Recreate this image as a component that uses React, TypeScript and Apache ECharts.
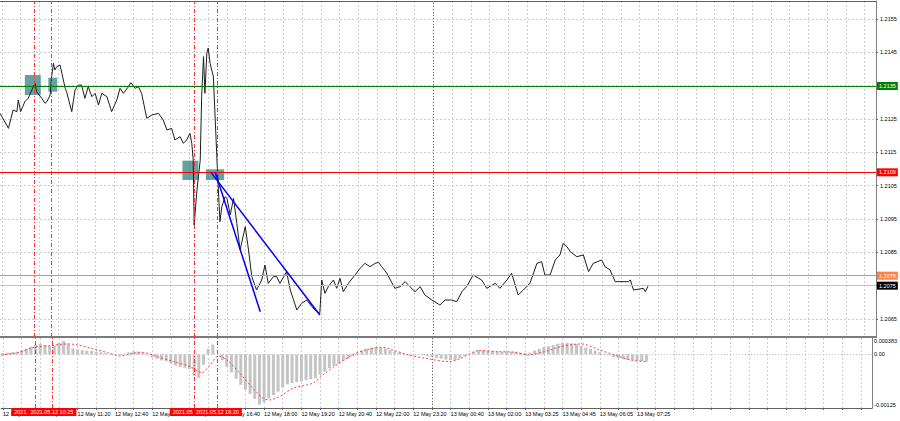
import React, { useEffect, useRef } from "react";
import * as echarts from "echarts";

const FONT = "'Liberation Sans', Arial, sans-serif";

// time = minutes since 12 May 2021 00:00
const priceTimes = [516,534,544,552,555,560,569,576,587,591,594,605,612,616,623,626,630,633,637,644,648,655,658,669,676,683,690,697,704,712,719,726,733,744,754,765,772,779,790,795,804,811,818,829,840,854,864,872,882,889,900,907,914,921,925,928,930,936,943,946,950,953,957,960,964,971,975,979,985,989,996,1000,1007,1014,1021,1028,1039,1046,1053,1063,1074,1081,1088,1099,1106,1113,1127,1135,1149,1159,1170,1181,1191,1198,1202,1209,1216,1227,1234,1241,1248,1259,1273,1284,1294,1305,1316,1323,1330,1341,1358,1369,1380,1390,1401,1412,1422,1437,1454,1465,1479,1490,1501,1511,1525,1543,1554,1572,1582,1597,1607,1621,1632,1646,1661,1671,1678,1689,1700,1710,1717,1725,1732,1746,1760,1771,1781,1799,1806,1817,1828,1856,1860,1867,1888,1892,1899];
const prices = [1.21267,1.21222,1.21277,1.21272,1.21307,1.21272,1.21302,1.21312,1.21347,1.21357,1.21332,1.21312,1.21297,1.21302,1.21322,1.21377,1.21417,1.21397,1.21407,1.21412,1.21387,1.21342,1.21332,1.21272,1.21337,1.21352,1.21352,1.21312,1.21347,1.21317,1.21327,1.21292,1.21327,1.21317,1.21272,1.21307,1.21342,1.21327,1.21347,1.21359,1.21342,1.21347,1.21327,1.21252,1.21262,1.21267,1.21247,1.21217,1.21222,1.21187,1.21197,1.21177,1.21187,1.21207,1.21177,1.21127,1.20932,1.21037,1.21127,1.21317,1.21437,1.21327,1.21447,1.21463,1.21417,1.21377,1.21247,1.21117,1.20942,1.20987,1.21017,1.21012,1.20962,1.21012,1.20937,1.20857,1.20927,1.20857,1.20777,1.20737,1.20767,1.20812,1.20757,1.20777,1.20777,1.20757,1.20792,1.20737,1.20677,1.20697,1.20707,1.20687,1.20672,1.20667,1.20767,1.20727,1.20747,1.20767,1.20742,1.20772,1.20732,1.20757,1.20782,1.20802,1.20817,1.20807,1.20817,1.2082,1.20807,1.20787,1.20742,1.20747,1.20762,1.20747,1.20732,1.20747,1.20722,1.20707,1.20692,1.20707,1.20707,1.20702,1.20732,1.20747,1.20782,1.20767,1.20742,1.20757,1.20742,1.20767,1.20787,1.20722,1.20737,1.20757,1.20817,1.20822,1.20782,1.20782,1.20827,1.20842,1.20877,1.20867,1.20852,1.20837,1.20842,1.20792,1.20817,1.20827,1.20807,1.20797,1.20762,1.20762,1.20767,1.20737,1.20742,1.20732,1.20752];

// MACD histogram, one value every 10 minutes from 08:40
const histStart = 520;
const histStep = 10;
const histValues = [0.00003,0.00004,0.00005,0.000065,0.0001,0.00013,0.00018,0.00023,0.00024,0.00022,0.00019,0.00021,0.00027,0.00031,0.00025,0.00014,0.00012,0.0001,0.00009,0.00008,0.00006,0.00005,0.00003,0.00001,0,-0.00001,0.00002,0.00005,0.00007,0.00007,0.00004,-0.00002,-0.00007,-0.0001,-0.00014,-0.00016,-0.00021,-0.00026,-0.00029,-0.00031,-0.00034,-0.0005,-0.00055,-0.00024,0.00013,0.00023,0,-0.000135,-0.00029,-0.00042,-0.00057,-0.00071,-0.00082,-0.00092,-0.00104,-0.00117,-0.00112,-0.00103,-0.00095,-0.00087,-0.00077,-0.0007,-0.00067,-0.00065,-0.00063,-0.0006,-0.00058,-0.00056,-0.00047,-0.0004,-0.00032,-0.00027,-0.00021,-0.00015,-0.0001,-0.00004,0.00003,0.00009,0.00013,0.00016,0.00017,0.00016,0.00014,0.0001,0.000065,0.00004,0.000015,0.000005,-0.000005,-0.00001,-0.00002,-0.00004,-0.00006,-0.00008,-0.0001,-0.00012,-0.00013,-0.00013,-0.00009,-0.00004,0.00001,0.00006,0.0001,0.0001,0.00009,0.00008,0.000065,0.000065,0.000065,0.000065,0.00006,0.00004,0.00003,0.00004,0.00009,0.00013,0.00017,0.00019,0.00022,0.00025,0.00027,0.00027,0.00026,0.00024,0.0002,0.00016,0.00013,0.00009,0.00005,0.00002,-0.00002,-0.00006,-0.00008,-0.00011,-0.00013,-0.00014,-0.00015,-0.00016,-0.00017];

const signalTimes = [516,552,587,623,658,680,708,744,772,800,822,850,886,921,946,964,982,1000,1028,1056,1078,1092,1113,1142,1184,1206,1241,1277,1305,1333,1355,1390,1433,1476,1503,1540,1582,1618,1646,1682,1717,1760,1796,1831,1866,1900];
const signalValues = [-0.000012,0.000042,0.000168,0.000205,0.000245,0.000222,0.000145,0.000042,-0.000035,0.000028,0.000042,-0.000051,-0.000168,-0.000285,-0.000425,-0.000245,-0.000035,-0.000128,-0.000439,-0.000789,-0.001022,-0.001062,-0.000985,-0.000789,-0.000672,-0.000478,-0.000205,0.000028,0.000121,0.000168,0.000105,-0.000012,-0.000105,-0.000168,-0.000089,0.000089,0.000065,0.000051,-0.000012,0.000065,0.000182,0.000245,0.000121,-0.000012,-0.000128,-0.000168];

const mainYTicks = [1.2065,1.2075,1.2085,1.2095,1.2105,1.2115,1.2125,1.2135,1.2145,1.2155];
const indYLabels = [0.000383, 0, -0.00125];
const xTickLabels = ["12 May 08:40","12 May 10:00","12 May 11:20","12 May 12:40","12 May 14:00","12 May 15:20","12 May 16:40","12 May 18:00","12 May 19:20","12 May 20:40","12 May 22:00","12 May 23:20","13 May 00:40","13 May 02:00","13 May 03:25","13 May 04:45","13 May 06:05","13 May 07:25"];
const xLabelStart = 520;
const xLabelStep = 80;

const levelValues = [1.2075, 1.2078, 1.2109, 1.21349];
const levelLabels = ["1.2075", "1.2078", "1.2109", "1.2135"];

const vLineTimes = [590, 625, 930, 980];
const vLineLabels = ["2021.05.12 09:50", "2021.05.12 10:25", "2021.05.12 15:30", "2021.05.12 16:20"];
const daySeparator = 1440;

const trendStarts = [[975, 1.2109], [966, 1.2109]];
const trendEnds = [[1071, 1.20672], [1198, 1.20662]];

const zoneTimes = [[569, 603], [619, 638], [905, 939], [955, 994]];
const zonePrices = [[1.21382, 1.21322], [1.21374, 1.21332], [1.21125, 1.21067], [1.21099, 1.21067]];

const X_MIN = 516;
const X_MAX = 2384;

export default function App() {
  const ref = useRef<HTMLDivElement>(null);
  useEffect(() => {
    const chart = echarts.init(ref.current!, undefined, { renderer: "svg" });
    const gridTimes: number[] = [];
    for (let t = 520; t <= X_MAX; t += 40) gridTimes.push(t);
    const labelTimes = xTickLabels.map((_, i) => xLabelStart + xLabelStep * i);
    const levelColors = ["#c0c0c0", "#ff7f50", "#ff0000", "#008000"];
    const levelBg = ["#000000", "#ff7f3f", "#ff0000", "#008000"];
    const redDash = { color: "#ff3030", width: 1, type: [4, 2, 1, 2] as any };
    const sepStyle = { color: "#6a6a6a", width: 1, type: [1, 2] as any };
    const small = { fontSize: 5.5, fontFamily: FONT };
    const blue = { color: "#0000ff", width: 1.5, type: "solid" as any };

    const option: any = {
      animation: false,
      backgroundColor: "#ffffff",
      grid: [
        { left: 0, right: 24, top: 1, height: 336 },
        { left: 0, right: 24, top: 338, height: 70 },
      ],
      xAxis: [
        {
          gridIndex: 0, type: "value", min: X_MIN, max: X_MAX, position: "bottom",
          axisLine: { show: true, onZero: false, lineStyle: { color: "#7a7a7a", width: 2 } },
          axisTick: { show: false, customValues: gridTimes },
          axisLabel: { show: false },
          splitLine: { show: true, lineStyle: { color: "#cfcfcf", type: [2, 2], width: 1 } },
        },
        {
          gridIndex: 0, type: "value", min: X_MIN, max: X_MAX, position: "top",
          axisLine: { show: true, onZero: false, lineStyle: { color: "#606060", width: 1 } },
          axisTick: { show: false }, axisLabel: { show: false }, splitLine: { show: false },
        },
        {
          gridIndex: 1, type: "value", min: X_MIN, max: X_MAX, position: "bottom",
          axisLine: { show: true, onZero: false, lineStyle: { color: "#606060", width: 1 } },
          axisTick: { show: true, customValues: gridTimes, length: 2, lineStyle: { color: "#606060" } },
          axisLabel: {
            customValues: labelTimes, align: "left", margin: 3, color: "#000", ...small,
            formatter: (v: number) => xTickLabels[Math.round((v - xLabelStart) / xLabelStep)] ?? "",
          },
          splitLine: { show: true, lineStyle: { color: "#cfcfcf", type: [2, 2], width: 1 } },
        },
      ],
      yAxis: [
        {
          gridIndex: 0, type: "value", position: "right", min: 1.20596, max: 1.21604,
          axisLine: { show: true, onZero: false, lineStyle: { color: "#808080" } },
          axisTick: { show: true, length: 2, customValues: mainYTicks, lineStyle: { color: "#606060" } },
          axisLabel: { customValues: mainYTicks, margin: 4, color: "#000", ...small, formatter: (v: number) => v.toFixed(4) },
          splitLine: { show: true, lineStyle: { color: "#cfcfcf", type: [2, 2], width: 1 } },
        },
        {
          gridIndex: 1, type: "value", position: "right", min: -0.00125, max: 0.000383,
          axisLine: { show: true, onZero: false, lineStyle: { color: "#808080" } },
          axisTick: { show: false, customValues: [0] },
          axisLabel: {
            customValues: indYLabels, margin: 2, color: "#000", ...small,
            formatter: (v: number) => (v > 0 ? "{t|0.000383}" : v < 0 ? "{b|-0.00125}" : "0.00"),
            rich: {
              t: { ...small, color: "#000", padding: [6, 0, 0, 0] },
              b: { ...small, color: "#000", padding: [0, 0, 6, 0] },
            },
          },
          splitLine: { show: true, lineStyle: { color: "#b8b8b8", type: [1, 2], width: 1 } },
        },
      ],
      series: [
        {
          type: "line", xAxisIndex: 0, yAxisIndex: 0, showSymbol: false, symbol: "none",
          data: priceTimes.map((t, i) => [t, prices[i]]),
          lineStyle: { color: "#1e1e1e", width: 1 },
          z: 3,
          markArea: {
            silent: true,
            itemStyle: { color: "rgba(40,125,125,0.72)" },
            data: zoneTimes.map((zt, i) => [
              { coord: [zt[0], zonePrices[i][0]] },
              { coord: [zt[1], zonePrices[i][1]] },
            ]),
          },
          markLine: {
            silent: true, symbol: ["none", "none"], animation: false, precision: 6,
            label: { show: false },
            data: [
              ...levelValues.map((v, i) => ({
                yAxis: v,
                lineStyle: { color: levelColors[i], width: 1, type: "solid" },
                label: {
                  show: true, position: "end", distance: 1, formatter: levelLabels[i],
                  backgroundColor: levelBg[i], color: "#fff", padding: [1, 2, 1, 2], ...small,
                },
              })),
              ...vLineTimes.map((t) => ({ xAxis: t, lineStyle: redDash })),
              { xAxis: daySeparator, lineStyle: sepStyle },
              ...trendStarts.map((s, i) => [
                { coord: s, lineStyle: blue },
                { coord: trendEnds[i], lineStyle: blue },
              ]),
            ],
          },
        },
        {
          type: "bar", xAxisIndex: 2, yAxisIndex: 1, barWidth: 3,
          data: histValues.map((v, i) => [histStart + histStep * i, v]),
          itemStyle: { color: "#c4c4c4" },
          markLine: {
            silent: true, symbol: ["none", "none"], animation: false, precision: 6,
            label: { show: false },
            data: [
              { xAxis: daySeparator, lineStyle: sepStyle },
              ...vLineTimes.map((t, i) => ({
                xAxis: t, lineStyle: redDash,
                label: {
                  show: true, position: "start", distance: 0, formatter: vLineLabels[i],
                  backgroundColor: "#ff0000", color: "#fff", padding: [1, 3, 1, 3], ...small,
                },
              })),
            ],
          },
        },
        {
          type: "line", xAxisIndex: 2, yAxisIndex: 1, showSymbol: false, symbol: "none", smooth: 0.3,
          data: signalTimes.map((t, i) => [t, signalValues[i]]),
          lineStyle: { color: "#ff4040", width: 1, type: [2, 2] },
        },
      ],
    };
    chart.setOption(option);
    return () => chart.dispose();
  }, []);
  return (
    <div
      ref={ref}
      style={{ position: "fixed", left: 0, top: 0, width: 900, height: 421, background: "#fff" }}
    />
  );
}
